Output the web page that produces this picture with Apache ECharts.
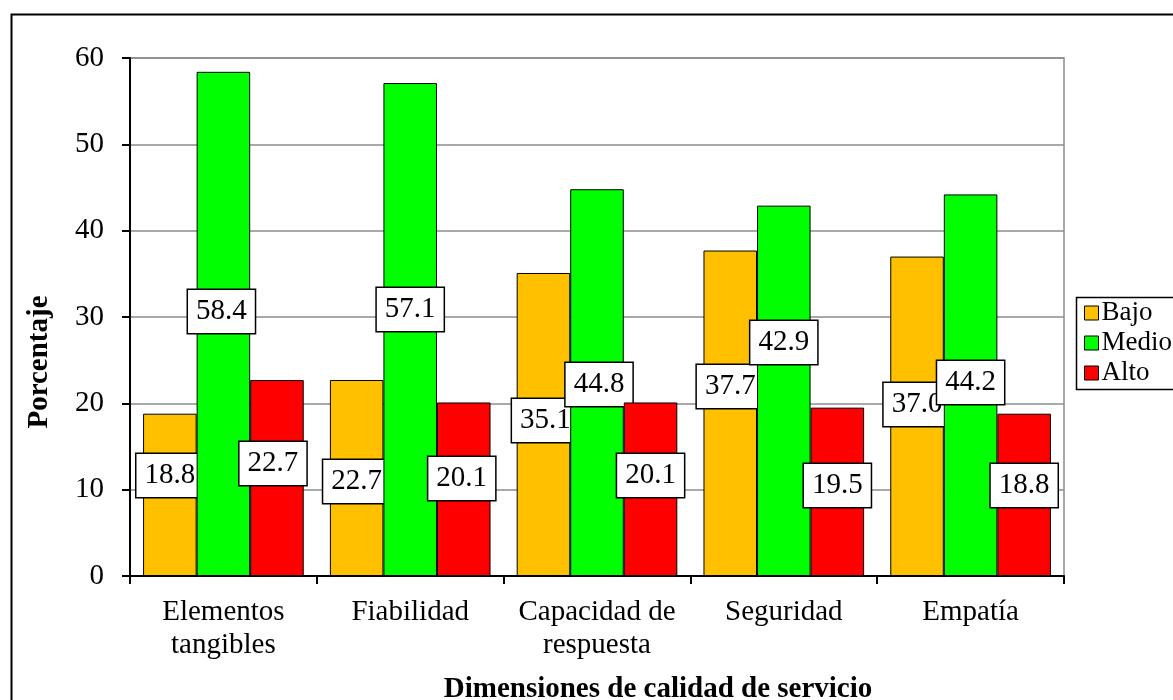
<!DOCTYPE html>
<html>
<head>
<meta charset="utf-8">
<script src="https://cdn.jsdelivr.net/npm/echarts@6/dist/echarts.min.js"></script>
<style>
html,body{margin:0;padding:0;background:#fff;}
#chart{width:1173px;height:700px;}
</style>
</head>
<body>
<div id="chart"></div>
<script>
// ---- data ----
const categories = ['Elementos\ntangibles', 'Fiabilidad', 'Capacidad de\nrespuesta', 'Seguridad', 'Empatía'];
const seriesNames = ['Bajo', 'Medio', 'Alto'];
const bajo  = [18.8, 22.7, 35.1, 37.7, 37.0];
const medio = [58.4, 57.1, 44.8, 42.9, 44.2];
const alto  = [22.7, 20.1, 20.1, 19.5, 18.8];
const yTicks = [0, 10, 20, 30, 40, 50, 60];

// ---- label placement (style: [dx px, lift above baseline px]) ----
const labelNudge = [
  [[0,79],[0,73],[2,134],[0,168],[0,150]],
  [[-2,243],[0,245],[2,170],[0,212],[0,172]],
  [[-4,91],[-2,76],[0,79],[0,69],[0,69]]
];
const colors = ['#FFC000', '#00FF00', '#FF0000'];
const FONT = "'Liberation Serif','Times New Roman',serif";

const chart = echarts.init(document.getElementById('chart'), null, {renderer: 'canvas'});

function makeSeries(idx, values) {
  return {
    name: seriesNames[idx],
    type: 'bar',
    barGap: '0%',
    barCategoryGap: '14%',
    itemStyle: {color: colors[idx], borderColor: '#000', borderWidth: 1},
    label: {
      show: true,
      position: 'insideBottom',
      distance: 0,
      formatter: p => p.value.toFixed(1),
      fontFamily: FONT,
      fontSize: 29,
      lineHeight: 29,
      color: '#000',
      backgroundColor: '#fff',
      borderColor: '#000',
      borderWidth: 1.5,
      padding: [7, 8, 7, 8]
    },
    labelLayout: function (p) {
      const n = labelNudge[idx][p.dataIndex];
      return {dx: n[0], dy: -n[1], hideOverlap: false};
    },
    data: values,
    z: 2 + idx
  };
}

const option = {
  animation: false,
  backgroundColor: '#fff',
  textStyle: {fontFamily: FONT},
  grid: {
    left: 130, right: 109, top: 58, bottom: 124,
    containLabel: false,
    outerBoundsMode: 'none',
    show: true, borderColor: '#8c8c8c', borderWidth: 1.5, backgroundColor: 'transparent'
  },
  legend: {
    orient: 'vertical',
    left: 1074,
    top: 297,
    padding: [1, 0, 1, 10],
    itemGap: 0,
    itemWidth: 14,
    itemHeight: 14,
    borderWidth: 0,
    icon: 'rect',
    itemStyle: {borderColor: '#000', borderWidth: 1},
    textStyle: {fontFamily: FONT, fontSize: 27, lineHeight: 30, color: '#000', padding: [0, 0, 0, -2]},
    data: seriesNames
  },
  xAxis: {
    type: 'category',
    data: categories,
    name: 'Dimensiones de calidad de servicio',
    nameLocation: 'middle',
    nameGap: 99,
    nameTextStyle: {fontFamily: FONT, fontSize: 29, fontWeight: 'bold', color: '#000', padding: [0, 0, 0, 122]},
    axisLine: {lineStyle: {color: '#000', width: 2}},
    axisTick: {show: true, length: 8, lineStyle: {color: '#000', width: 2}},
    axisLabel: {fontFamily: FONT, fontSize: 29, lineHeight: 33, color: '#000', margin: 20, interval: 0},
    splitLine: {show: false}
  },
  yAxis: {
    type: 'value',
    min: yTicks[0],
    max: yTicks[yTicks.length - 1],
    interval: 10,
    name: 'Porcentaje',
    nameLocation: 'middle',
    nameRotate: 90,
    nameGap: 76,
    nameTextStyle: {fontFamily: FONT, fontSize: 29, fontWeight: 'bold', color: '#000', padding: [0, 90, 0, 0]},
    axisLine: {show: true, lineStyle: {color: '#000', width: 2}},
    axisTick: {show: true, length: 8, lineStyle: {color: '#000', width: 2}},
    axisLabel: {fontFamily: FONT, fontSize: 29, color: '#000', margin: 26},
    splitLine: {show: true, lineStyle: {color: '#8c8c8c', width: 1.5}}
  },
  graphic: [{
    type: 'rect',
    left: 9, top: 12,
    shape: {width: 1300, height: 800},
    style: {fill: 'none', stroke: '#000', lineWidth: 2},
    silent: true,
    z: -10
  }, {
    type: 'rect',
    left: 1074, top: 295,
    shape: {width: 200, height: 92},
    style: {fill: 'none', stroke: '#000', lineWidth: 1.5},
    silent: true,
    z: 10
  }],
  series: [makeSeries(0, bajo), makeSeries(1, medio), makeSeries(2, alto)]
};
chart.setOption(option);
</script>
</body>
</html>
